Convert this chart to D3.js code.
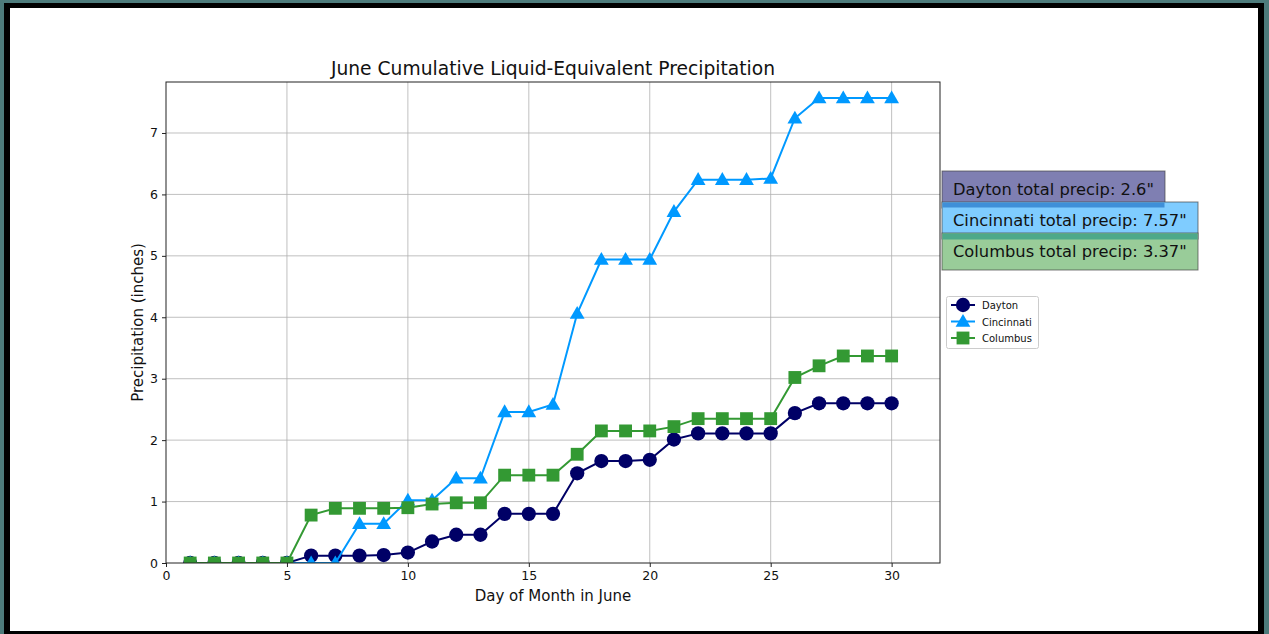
<!DOCTYPE html>
<html><head><meta charset="utf-8">
<script src="https://cdn.jsdelivr.net/npm/d3@7"></script>
<style>
html,body{margin:0;padding:0;background:#4d7b7b;}
svg{display:block;font-family:"DejaVu Sans",sans-serif;}
</style></head>
<body>
<script>
const days = d3.range(1, 31);
const dayton = [0,0,0,0,0,0.12,0.12,0.12,0.13,0.17,0.35,0.46,0.46,0.80,0.80,0.80,1.46,1.66,1.66,1.68,2.01,2.11,2.11,2.11,2.11,2.44,2.60,2.60,2.60,2.60];
const cincinnati = [0,0,0,0,0,0,0,0.64,0.64,1.02,1.02,1.38,1.38,2.46,2.46,2.58,4.06,4.94,4.94,4.94,5.72,6.24,6.24,6.24,6.26,7.24,7.57,7.57,7.57,7.57];
const columbus = [0,0,0,0,0,0.78,0.89,0.89,0.89,0.90,0.96,0.98,0.98,1.43,1.43,1.43,1.77,2.15,2.15,2.15,2.22,2.35,2.35,2.35,2.35,3.02,3.21,3.37,3.37,3.37];
const seriesNames = ["Dayton","Cincinnati","Columbus"];
const seriesColors = ["#000066","#0099ff","#339933"];
const boxFills = ["#7f7fb2","#7fccff","#99cc99"];
const totals = ["2.6","7.57","3.37"];
const xTicks = [0,5,10,15,20,25,30];
const yTicks = [0,1,2,3,4,5,6,7];

const W = 1269, H = 634;
const svg = d3.select("body").append("svg").attr("width", W).attr("height", H);
// frame
svg.append("rect").attr("x",0).attr("y",0).attr("width",W).attr("height",H).attr("fill","#4d7b7b");
svg.append("rect").attr("x",4).attr("y",3).attr("width",1260).attr("height",631).attr("fill","#000");
svg.append("rect").attr("x",10).attr("y",8).attr("width",1248).attr("height",623).attr("fill","#fff");

const L = 166, R = 940, T = 82, B = 563;
const x = d3.scaleLinear().domain([0, 32]).range([L, R]);
const y = d3.scaleLinear().domain([0, 7.83]).range([B, T]);

svg.append("defs").append("clipPath").attr("id","plotclip").append("rect")
  .attr("x", L).attr("y", T).attr("width", R-L).attr("height", B-T);

// grid
const g = svg.append("g");
g.selectAll(".vg").data(xTicks.slice(1)).join("line")
  .attr("x1", d=>x(d)).attr("x2", d=>x(d)).attr("y1", T).attr("y2", B)
  .attr("stroke", "#b0b0b0").attr("stroke-width", 0.8);
g.selectAll(".hg").data(yTicks.slice(1)).join("line")
  .attr("x1", L).attr("x2", R).attr("y1", d=>y(d)).attr("y2", d=>y(d))
  .attr("stroke", "#b0b0b0").attr("stroke-width", 0.8);

// axes
const xAxis = d3.axisBottom(x).tickValues(xTicks).tickSize(4).tickPadding(4);
const yAxis = d3.axisLeft(y).tickValues(yTicks).tickSize(4).tickPadding(4);
const gx = svg.append("g").attr("transform", `translate(0,${B})`).call(xAxis);
const gy = svg.append("g").attr("transform", `translate(${L},0)`).call(yAxis);
[gx, gy].forEach(a => {
  a.select(".domain").remove();
  a.selectAll("text").attr("font-size", 12.5).attr("fill", "#111").attr("font-family","DejaVu Sans");
  a.selectAll("line").attr("stroke", "#222");
});

// series
const data = [dayton, cincinnati, columbus];
const symbols = [d3.symbolCircle, d3.symbolTriangle, d3.symbolSquare];
const sizes = [160, 95, 165];
const line = d3.line().x((d,i)=>x(days[i])).y(d=>y(d));
const plot = svg.append("g").attr("clip-path", "url(#plotclip)");
data.forEach((vals, k) => {
  const sg = plot.append("g");
  sg.append("path").datum(vals).attr("d", line).attr("fill","none")
    .attr("stroke", seriesColors[k]).attr("stroke-width", 2);
  sg.selectAll("path.m").data(vals).join("path").attr("class","m")
    .attr("transform", (d,i)=>`translate(${x(days[i])},${y(d) + (k===1?1:0)})`)
    .attr("d", d3.symbol().type(symbols[k]).size(sizes[k]))
    .attr("fill", seriesColors[k]);
});

// axes frame
svg.append("rect").attr("x", L).attr("y", T).attr("width", R-L).attr("height", B-T)
  .attr("fill","none").attr("stroke","#222").attr("stroke-width",1);

// titles
svg.append("text").attr("x", 553).attr("y", 75).attr("text-anchor","middle")
  .attr("font-size", 18.7).attr("fill","#111").text("June Cumulative Liquid-Equivalent Precipitation");
svg.append("text").attr("x", 553).attr("y", 601).attr("text-anchor","middle")
  .attr("font-size", 15).attr("fill","#111").text("Day of Month in June");
svg.append("text").attr("transform", `translate(143,${(T+B)/2}) rotate(-90)`).attr("text-anchor","middle")
  .attr("font-size", 15).attr("fill","#111").text("Precipitation (inches)");

// total boxes
const boxY = [171, 202, 233];
const boxW = [223, 256, 256];
seriesNames.forEach((n, k) => {
  svg.append("rect").attr("x", 942).attr("y", boxY[k]).attr("width", boxW[k]).attr("height", 37)
    .attr("fill", boxFills[k]).attr("stroke", "#444").attr("stroke-opacity",0.7).attr("stroke-width",1);
});
// overlapping strip tint
svg.append("rect").attr("x",942.5).attr("y",202.5).attr("width",222).attr("height",5).attr("fill","#3f8fd8");
svg.append("rect").attr("x",942.5).attr("y",233.5).attr("width",255).attr("height",6).attr("fill","#4da98a");
seriesNames.forEach((n, k) => {
  svg.append("text").attr("x", 953).attr("y", boxY[k] + 24).attr("font-size", 16.3).attr("fill","#111")
    .text(`${n} total precip: ${totals[k]}"`);
});

// legend
const lg = svg.append("g");
lg.append("rect").attr("x", 946.5).attr("y", 296.5).attr("width", 92).attr("height", 52).attr("rx", 2)
  .attr("fill","#fff").attr("stroke","#ccc");
seriesNames.forEach((n, k) => {
  const yy = 305 + k*16.5;
  lg.append("line").attr("x1", 951).attr("x2", 975).attr("y1", yy).attr("y2", yy)
    .attr("stroke", seriesColors[k]).attr("stroke-width", 2);
  lg.append("path").attr("transform", `translate(963,${yy + (k===1?1:0)})`)
    .attr("d", d3.symbol().type(symbols[k]).size(sizes[k])).attr("fill", seriesColors[k]);
  lg.append("text").attr("x", 982).attr("y", yy + 4).attr("font-size", 10).attr("fill","#111").text(n);
});
</script>
</body></html>
